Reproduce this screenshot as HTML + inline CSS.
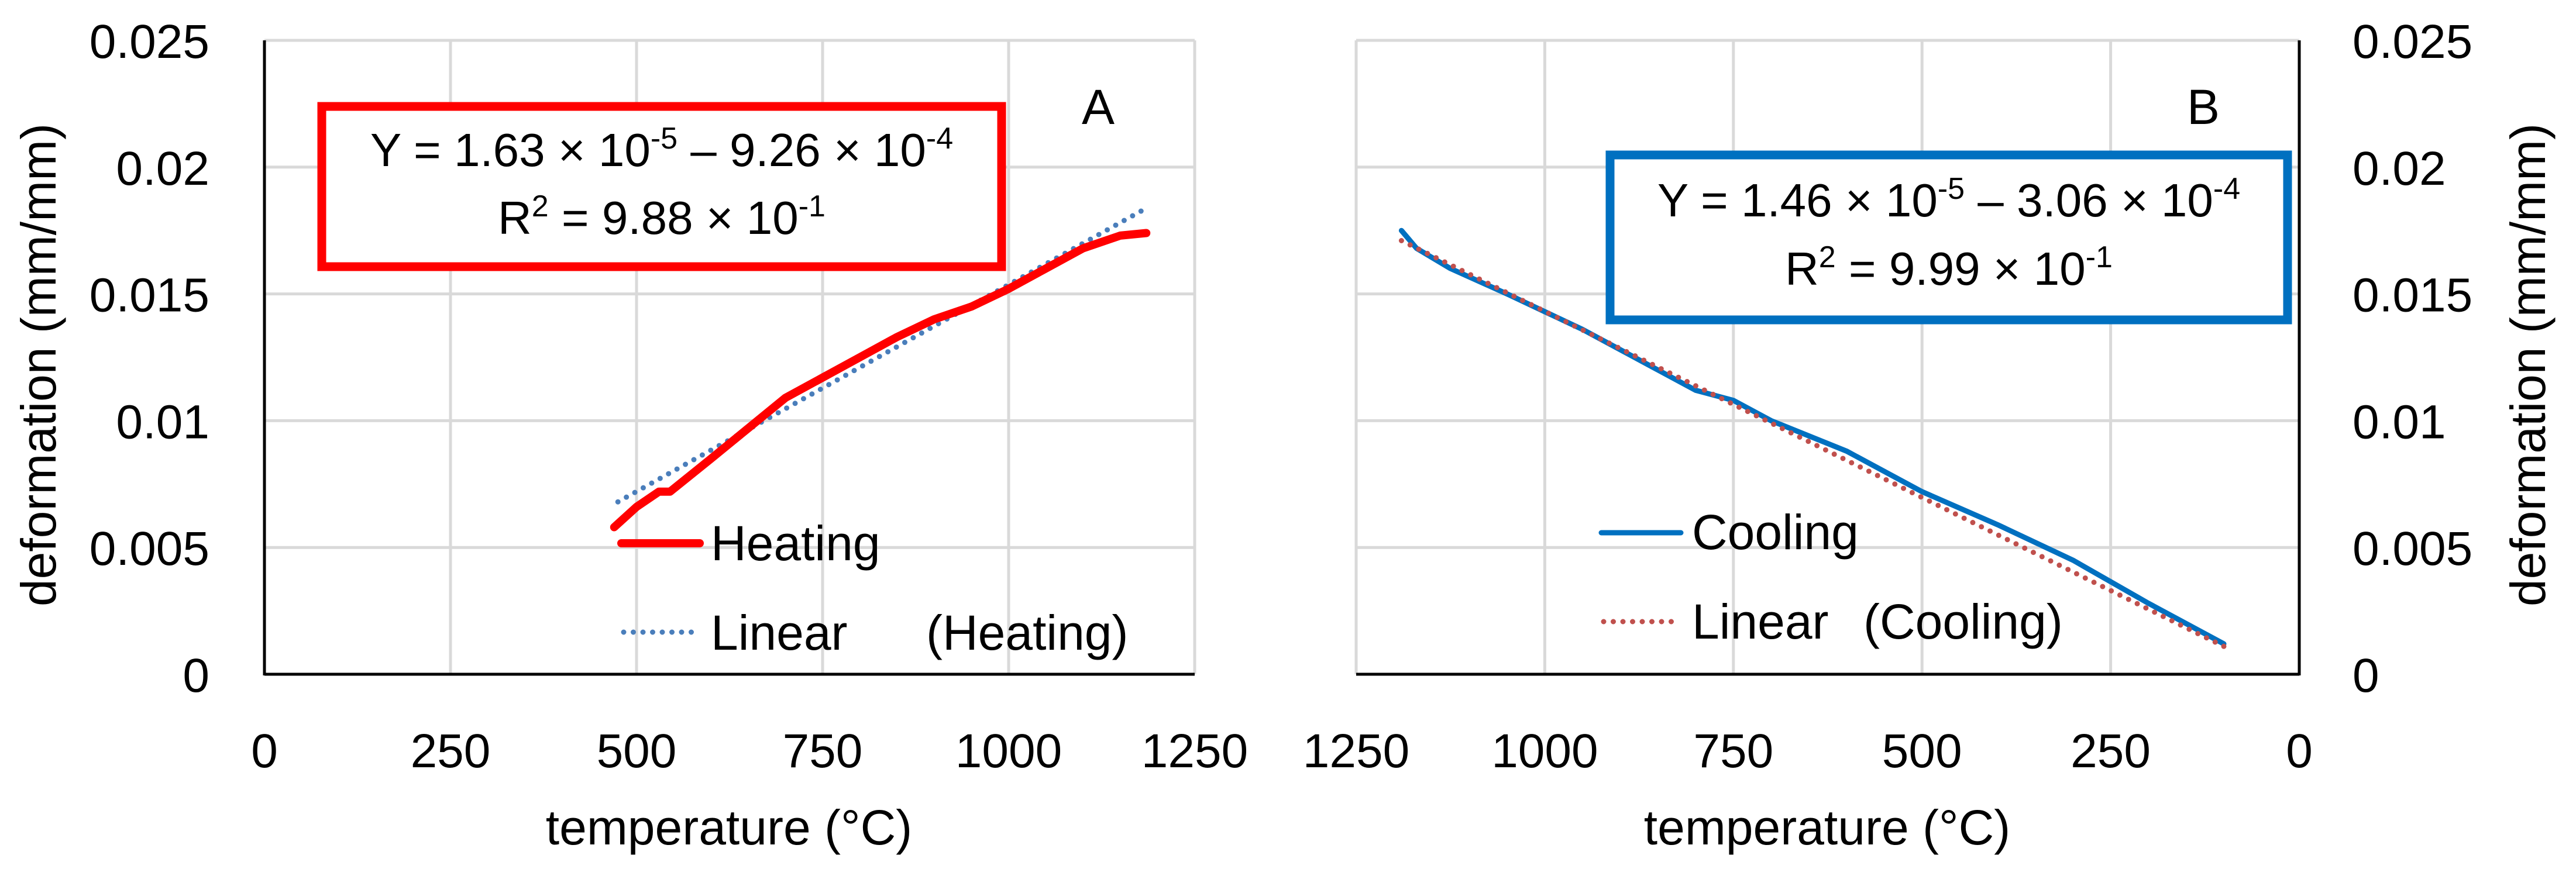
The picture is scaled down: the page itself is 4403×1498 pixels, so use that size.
<!DOCTYPE html>
<html><head><meta charset="utf-8"><style>
html,body{margin:0;padding:0;background:#fff;}
svg{display:block;font-family:"Liberation Sans",sans-serif;}
</style></head><body>
<svg id="chart" xmlns="http://www.w3.org/2000/svg" width="4403" height="1498" viewBox="0 0 4403 1498">
<rect width="4403" height="1498" fill="#fff"/>
<g id="panelA"></g>
<g id="panelB"></g>
</svg>
<script>
const xTicks = [0, 250, 500, 750, 1000, 1250];
const yTicks = [0, 0.005, 0.01, 0.015, 0.02, 0.025];
const yTickLabels = ["0", "0.005", "0.01", "0.015", "0.02", "0.025"];
const heatT = [470, 500, 530, 545, 600, 650, 700, 750, 800, 850, 900, 950, 1000, 1050, 1100, 1150, 1185];
const heatD = [0.0058, 0.0066, 0.0072, 0.0072, 0.0085, 0.0097, 0.0109, 0.0117, 0.0125, 0.0133, 0.0140, 0.0145, 0.0152, 0.0160, 0.0168, 0.0173, 0.0174];
const heatFitT = [475, 1180];
const heatFitD = [0.0068, 0.0183];
const coolT = [1190, 1170, 1125, 1050, 1000, 950, 900, 850, 800, 750, 700, 600, 550, 500, 400, 300, 200, 100];
const coolD = [0.0175, 0.0168, 0.0160, 0.0150, 0.0143, 0.0136, 0.0128, 0.0120, 0.0112, 0.0108, 0.0100, 0.0088, 0.0080, 0.0072, 0.0059, 0.0045, 0.0028, 0.0012];
const coolFitT = [1190, 100];
const coolFitD = [0.0171, 0.0011];

const NS = "http://www.w3.org/2000/svg";
function el(parent, tag, attrs, text) {
  const e = document.createElementNS(NS, tag);
  for (const k in attrs) e.setAttribute(k, attrs[k]);
  if (text !== undefined) e.textContent = text;
  parent.appendChild(e);
  return e;
}
const Y0 = 1153, Y1 = 69, YMAX = 0.025;
const yS = v => Y0 - (v / YMAX) * (Y0 - Y1);

function panel(g, opt) {
  const xS = opt.xS;
  // gridlines
  xTicks.forEach(t => {
    const l = el(g, "line", {x1: xS(t), x2: xS(t), y1: Y1, y2: Y0, stroke: "#d9d9d9", "stroke-width": 5});
    
    
  });
  yTicks.forEach(t => {
    const l = el(g, "line", {x1: opt.px0, x2: opt.px1, y1: yS(t), y2: yS(t), stroke: "#d9d9d9", "stroke-width": 5});
    
    
  });
  // axes
  const xa = el(g, "line", {x1: opt.px0, x2: opt.px1, y1: Y0, y2: Y0, stroke: "#000", "stroke-width": 5});
  
  
  const ya = el(g, "line", {x1: opt.yAxisX, x2: opt.yAxisX, y1: Y1, y2: Y0 + 2, stroke: "#000", "stroke-width": 5});
  
  
  // tick labels
  xTicks.forEach(t => {
    const tx = el(g, "text", {x: xS(t), y: 1312, "font-size": 82, "text-anchor": "middle"}, String(t));
    
    
  });
  yTicks.forEach((t, i) => {
    const tx = el(g, "text", {x: opt.yLabX, y: yS(t) + 30, "font-size": 82, "text-anchor": opt.yLabAnchor}, yTickLabels[i]);
    
    
  });
  // axis titles
  const xt = el(g, "text", {x: opt.xTitleX, y: 1444, "font-size": 84, "text-anchor": "middle"}, "temperature (°C)");
  
  
  const yt = el(g, "text", {x: 0, y: 0, "font-size": 84, "text-anchor": "middle", transform: `translate(${opt.yTitleX},624) rotate(-90)`}, "deformation (mm/mm)");
  
  
  // series
  const pts = (T, D) => T.map((t, i) => xS(t).toFixed(1) + "," + yS(D[i]).toFixed(1)).join(" ");
  const fit = el(g, "polyline", {points: pts(opt.fitT, opt.fitD), fill: "none", stroke: opt.fitColor, "stroke-width": 9, "stroke-dasharray": "0 16.5", "stroke-linecap": "round"});
  
  
  const ser = el(g, "polyline", {points: pts(opt.T, opt.D), fill: "none", stroke: opt.color, "stroke-width": opt.sw, "stroke-linejoin": "round", "stroke-linecap": "round"});
  
  
  if (opt.fitOnTop) g.appendChild(fit);
  // equation box
  const b = opt.box;
  const br = el(g, "rect", {x: b.x, y: b.y, width: b.w, height: b.h, fill: "#fff", stroke: opt.boxColor, "stroke-width": 15});
  
  
  const cx = b.x + b.w / 2;
  const t1 = el(g, "text", {x: cx, y: b.y + b.t1, "font-size": 80, "text-anchor": "middle"});
  
  
  t1.innerHTML = `Y = ${opt.eq[0]} × 10<tspan dy="-30" font-size="52">-5</tspan><tspan dy="30"> – ${opt.eq[1]} × 10</tspan><tspan dy="-30" font-size="52">-4</tspan>`;
  const t2 = el(g, "text", {x: cx, y: b.y + b.t2, "font-size": 80, "text-anchor": "middle"});
  
  
  t2.innerHTML = `R<tspan dy="-30" font-size="52">2</tspan><tspan dy="30"> = ${opt.eq[2]} × 10</tspan><tspan dy="-30" font-size="52">-1</tspan>`;
  // panel letter
  const pl = el(g, "text", {x: opt.letterX, y: 212, "font-size": 84, "text-anchor": "middle"}, opt.letter);
  
  
  // legend
  const L = opt.leg;
  const ll = el(g, "line", {x1: L.x1, x2: L.x2, y1: L.y1, y2: L.y1, stroke: opt.color, "stroke-width": opt.sw, "stroke-linecap": "round"});
  
  
  const lt = el(g, "text", {x: L.tx, y: L.b1, "font-size": 84}, opt.name);
  
  
  const ld = el(g, "line", {x1: L.x1 + 4, x2: L.x2, y1: L.y2, y2: L.y2, stroke: opt.fitColor, "stroke-width": 9, "stroke-dasharray": "0 16.5", "stroke-linecap": "round"});
  
  
  const lt2 = el(g, "text", {x: L.tx, y: L.b2, "font-size": 84}, "Linear");
  
  
  const lt3 = el(g, "text", {x: L.px, y: L.b2, "font-size": 84}, "(" + opt.name + ")");
  
  
}

panel(document.getElementById("panelA"), {
  xS: t => 452 + t / 1250 * (2042 - 452), px0: 452, px1: 2042, yAxisX: 452,
  yLabX: 358, yLabAnchor: "end", xTitleX: 1246, yTitleX: 95,
  T: heatT, D: heatD, fitT: heatFitT, fitD: heatFitD, fitOnTop: false,
  color: "#ff0000", sw: 14, fitColor: "#4a7ebb", name: "Heating",
  box: {x: 550, y: 182, w: 1162, h: 274, t1: 102, t2: 218}, boxColor: "#ff0000",
  eq: ["1.63", "9.26", "9.88"], letter: "A", letterX: 1877,
  leg: {x1: 1062, x2: 1196, y1: 929, y2: 1081, tx: 1215, b1: 958, b2: 1111, px: 1583}
});
panel(document.getElementById("panelB"), {
  xS: t => 3930 - t / 1250 * (3930 - 2318), px0: 2318, px1: 3930, yAxisX: 3930,
  yLabX: 4021, yLabAnchor: "start", xTitleX: 3123, yTitleX: 4350,
  T: coolT, D: coolD, fitT: coolFitT, fitD: coolFitD, fitOnTop: true,
  color: "#0070c0", sw: 9, fitColor: "#c0504d", name: "Cooling",
  box: {x: 2752, y: 265, w: 1158, h: 282, t1: 105, t2: 222}, boxColor: "#0070c0",
  eq: ["1.46", "3.06", "9.99"], letter: "B", letterX: 3766,
  leg: {x1: 2737, x2: 2873, y1: 911, y2: 1063, tx: 2892, b1: 939, b2: 1092, px: 3185}
});
</script>
</body></html>
